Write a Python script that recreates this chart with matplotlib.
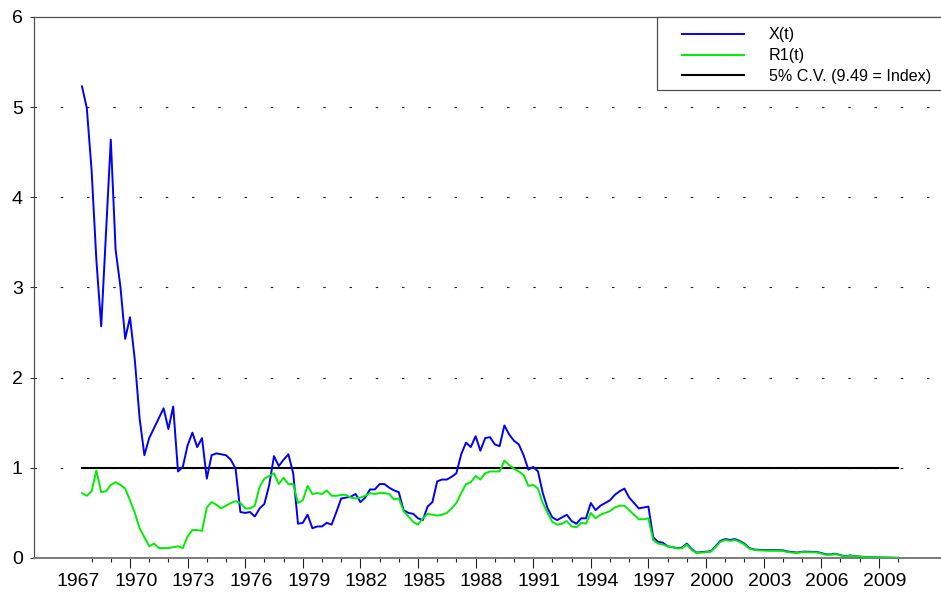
import matplotlib
matplotlib.use("Agg")
import matplotlib.pyplot as plt
import matplotlib.transforms as mtransforms
from matplotlib.patches import Rectangle
import numpy as np

plt.rcParams['font.family'] = ['Liberation Sans', 'DejaVu Sans']
plt.rcParams['lines.scale_dashes'] = False

# ---------------- data (quarterly, 1967Q3 .. 2010Q1) ----------------
start_year = 1967.5
step = 0.25

x_t = [
    5.23, 4.99, 4.30, 3.30, 2.57, 3.60, 4.64, 3.42, 3.01, 2.43,
    2.67, 2.20, 1.55, 1.14, 1.33, 1.44, 1.55, 1.66, 1.43, 1.68,
    0.96, 1.01, 1.25, 1.39, 1.23, 1.33, 0.88, 1.14, 1.16, 1.15,
    1.14, 1.09, 0.99, 0.51, 0.50, 0.51, 0.46, 0.55, 0.60, 0.81,
    1.13, 1.02, 1.09, 1.15, 0.94, 0.38, 0.39, 0.48, 0.33, 0.35,
    0.35, 0.39, 0.37, 0.51, 0.66, 0.67, 0.68, 0.71, 0.62, 0.67,
    0.76, 0.76, 0.82, 0.82, 0.78, 0.75, 0.73, 0.53, 0.50, 0.49,
    0.44, 0.42, 0.57, 0.62, 0.85, 0.87, 0.87, 0.90, 0.94, 1.15,
    1.28, 1.23, 1.35, 1.19, 1.33, 1.34, 1.26, 1.24, 1.47, 1.37,
    1.30, 1.26, 1.14, 0.98, 1.01, 0.96, 0.72, 0.55, 0.45, 0.42,
    0.45, 0.48, 0.41, 0.38, 0.44, 0.44, 0.61, 0.53, 0.58, 0.61,
    0.64, 0.70, 0.74, 0.77, 0.67, 0.61, 0.55, 0.56, 0.57, 0.23,
    0.18, 0.17, 0.13, 0.12, 0.11, 0.115, 0.16, 0.10, 0.06, 0.065,
    0.07, 0.075, 0.13, 0.19, 0.21, 0.20, 0.21, 0.19, 0.16, 0.11,
    0.095, 0.09, 0.088, 0.087, 0.087, 0.087, 0.085, 0.072, 0.066, 0.06,
    0.07, 0.07, 0.068, 0.068, 0.055, 0.04, 0.04, 0.048, 0.032, 0.018,
    0.028, 0.02, 0.016, 0.011, 0.008, 0.007, 0.006, 0.005, 0.004, 0.003,
    0.002,
]

r1_t = [
    0.72, 0.69, 0.74, 0.97, 0.73, 0.74, 0.81, 0.84, 0.81, 0.77,
    0.64, 0.50, 0.33, 0.23, 0.13, 0.16, 0.11, 0.11, 0.11, 0.12,
    0.13, 0.11, 0.24, 0.31, 0.31, 0.30, 0.56, 0.62, 0.59, 0.55,
    0.58, 0.61, 0.63, 0.61, 0.55, 0.55, 0.58, 0.79, 0.88, 0.91,
    0.94, 0.82, 0.89, 0.82, 0.82, 0.61, 0.64, 0.80, 0.71, 0.72,
    0.71, 0.75, 0.69, 0.69, 0.70, 0.70, 0.67, 0.66, 0.67, 0.69,
    0.72, 0.71, 0.72, 0.72, 0.71, 0.65, 0.66, 0.52, 0.46, 0.40,
    0.37, 0.44, 0.49, 0.48, 0.47, 0.48, 0.50, 0.55, 0.61, 0.72,
    0.82, 0.84, 0.91, 0.87, 0.94, 0.96, 0.96, 0.96, 1.08, 1.03,
    0.99, 0.96, 0.92, 0.80, 0.81, 0.77, 0.61, 0.50, 0.40, 0.37,
    0.38, 0.41, 0.35, 0.34, 0.39, 0.38, 0.50, 0.44, 0.48, 0.50,
    0.52, 0.56, 0.58, 0.58, 0.53, 0.48, 0.43, 0.43, 0.44, 0.20,
    0.16, 0.15, 0.13, 0.12, 0.107, 0.107, 0.15, 0.09, 0.055, 0.06,
    0.065, 0.07, 0.12, 0.18, 0.20, 0.19, 0.20, 0.18, 0.15, 0.105,
    0.09, 0.085, 0.082, 0.08, 0.08, 0.08, 0.078, 0.065, 0.06, 0.055,
    0.066, 0.064, 0.063, 0.063, 0.05, 0.035, 0.035, 0.044, 0.03, 0.015,
    0.026, 0.018, 0.015, 0.01, 0.007, 0.006, 0.005, 0.004, 0.003, 0.002,
    0.001,
]

cv_level = 1.0
labels = ['X(t)', 'R1(t)', '5% C.V. (9.49 = Index)']
year_labels = list(range(1967, 2010, 3))
minor_years = list(range(1968, 2011))
y_ticks = [0, 1, 2, 3, 4, 5, 6]

n = min(len(x_t), len(r1_t))
t = start_year + step * np.arange(n)

# ---------------- figure ----------------
W, H = 941, 599
fig = plt.figure(figsize=(W / 100, H / 100), dpi=100)
ax = fig.add_axes([34 / W, (H - 558) / H, 1 - 34 / W, (558 - 17) / H])

ax.set_xlim(1965.0, 2012.24)
ax.set_ylim(0, 6)

# dotted grid
for yv in y_ticks[1:-1]:
    ax.axhline(yv, color='#222222', lw=0.8, linestyle=(0, (1.8, 17.1)), zorder=1)

l3, = ax.plot([t[0], t[-1]], [cv_level, cv_level], color='black', lw=1.5, zorder=2)
l1, = ax.plot(t, x_t[:n], color='#0000ff', lw=1.4, zorder=3)
l2, = ax.plot(t, r1_t[:n], color='#00ee00', lw=1.4, zorder=4)

# spines
ax.spines['right'].set_visible(False)
ax.spines['left'].set_color('#505050')
ax.spines['left'].set_linewidth(0.9)
ax.spines['top'].set_color('#505050')
ax.spines['top'].set_linewidth(0.9)
ax.spines['bottom'].set_color('#7a7a7a')
ax.spines['bottom'].set_linewidth(1.4)

# x ticks
ax.set_xticks(year_labels)
ax.set_xticklabels([str(y) for y in year_labels], fontsize=14)
ax.set_xticks([y for y in minor_years if y not in year_labels], minor=True)
ax.tick_params(axis='x', which='major', length=7.2, width=0.8, color='#222222', pad=3.8, direction='out')
ax.tick_params(axis='x', which='minor', length=2.9, width=0.8, color='#222222', direction='out')
ax.xaxis.get_major_ticks()[0].tick1line.set_visible(False)
offset = mtransforms.ScaledTranslation(6 / 100, 0, fig.dpi_scale_trans)
for lab in ax.get_xticklabels():
    lab.set_transform(lab.get_transform() + offset)

# y ticks
ax.set_yticks(y_ticks)
ax.set_yticklabels([str(v) for v in y_ticks], fontsize=14)
ax.tick_params(axis='y', which='major', length=2.6, width=0.8, color='#333333', pad=5.5, direction='out')

# legend box drawn manually
rect = Rectangle((656.7 / W, (H - 90) / H), 0.4, (90 - 17) / H, transform=fig.transFigure,
                 facecolor='white', edgecolor='#505050', lw=0.9, zorder=10)
fig.patches.append(rect)

leg = fig.legend([l1, l2, l3], labels, loc='upper left', bbox_to_anchor=(681.7 / W, (H - 27.5) / H),
                 frameon=False, fontsize=11.6, handlelength=3.85, handletextpad=1.55,
                 labelspacing=0.36, borderpad=0, borderaxespad=0)
leg.set_zorder(11)

fig.savefig('out.png', dpi=100)
